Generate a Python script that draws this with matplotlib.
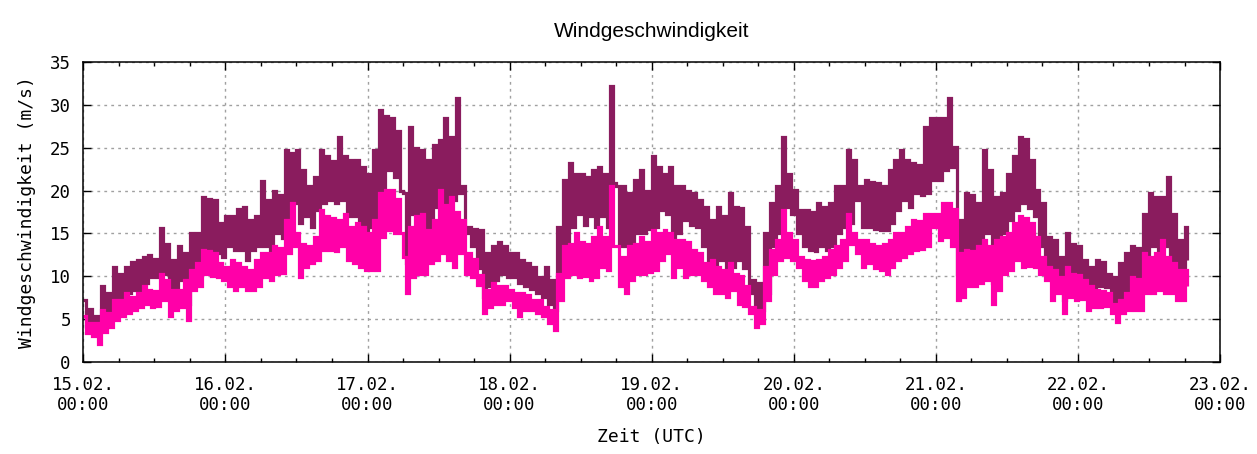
import matplotlib
matplotlib.use('Agg')
import matplotlib.pyplot as plt
from matplotlib.ticker import MultipleLocator

# Half-hourly readings, starting 15.02. 00:00 UTC; each line = 10 hours (pairs per hour)
gust = [7.2, 4.1, 6.2, 4.0, 5.3, 3.5, 8.8, 4.1, 8.0, 5.0, 11.1, 6.4, 10.3, 7.2, 11.1, 8.0, 11.7, 8.4, 11.9, 8.4,
        12.3, 9.2, 12.5, 9.9, 12.0, 9.9, 15.6, 10.3, 13.8, 8.4, 11.9, 8.4, 13.5, 9.6, 12.7, 6.8, 15.0, 10.3, 15.0, 11.9,
        19.3, 12.3, 19.0, 12.5, 18.9, 12.7, 16.2, 12.3, 17.0, 13.5, 17.0, 13.1, 17.9, 13.1, 18.1, 11.9, 16.6, 13.1, 17.0, 13.5,
        21.1, 13.5, 18.9, 13.1, 20.0, 15.0, 19.5, 14.5, 24.8, 16.6, 24.4, 18.5, 24.8, 16.2, 22.4, 17.0, 20.5, 15.8, 21.6, 17.7,
        24.8, 18.5, 24.0, 18.9, 23.5, 18.5, 26.3, 18.9, 24.0, 17.0, 23.6, 17.0, 23.6, 15.8, 22.8, 15.4, 22.0, 15.8, 24.8, 15.8,
        29.4, 19.7, 28.7, 22.4, 28.5, 21.6, 27.0, 20.0, 19.7, 11.5, 27.5, 17.3, 25.0, 16.0, 24.8, 15.8, 23.6, 15.0, 25.3, 18.1,
        25.9, 17.0, 28.5, 17.3, 26.3, 18.9, 30.8, 19.7, 20.5, 15.0, 15.8, 13.5, 15.5, 11.0, 15.4, 7.6, 12.7, 8.8, 13.5, 9.6,
        14.0, 10.3, 13.5, 9.9, 12.7, 9.9, 12.7, 9.2, 11.9, 8.8, 11.5, 8.5, 11.1, 8.0, 9.9, 7.6, 11.1, 6.8, 9.6, 6.0,
        15.8, 9.9, 21.2, 13.5, 23.2, 15.8, 22.0, 17.3, 22.0, 16.0, 21.6, 17.0, 22.4, 15.8, 22.8, 17.0, 22.0, 15.8, 32.2, 20.9,
        20.5, 13.5, 20.5, 13.5, 19.7, 13.1, 21.2, 15.0, 22.4, 15.0, 20.0, 15.5, 24.0, 15.8, 22.8, 17.7, 22.0, 17.3, 22.8, 14.6,
        20.5, 15.0, 20.5, 16.6, 20.0, 16.0, 19.7, 15.8, 18.9, 13.5, 18.1, 11.5, 16.6, 11.1, 18.1, 11.9, 17.0, 10.3, 19.7, 11.1,
        18.1, 11.9, 18.0, 11.0, 15.8, 8.0, 9.6, 5.7, 9.2, 6.0, 15.0, 8.0, 18.5, 13.5, 20.5, 15.0, 26.3, 18.1, 22.0, 17.3,
        20.1, 15.0, 17.7, 13.5, 17.7, 13.1, 17.5, 13.0, 18.5, 13.5, 18.1, 13.1, 18.5, 13.5, 20.5, 15.0, 20.5, 15.8, 24.8, 16.2,
        23.6, 18.9, 20.5, 15.8, 21.2, 15.8, 21.0, 15.5, 20.9, 15.4, 20.5, 15.4, 22.4, 16.2, 23.6, 17.7, 24.8, 18.9, 23.6, 18.1,
        23.2, 19.7, 23.0, 19.5, 27.5, 19.7, 28.5, 21.2, 28.5, 21.2, 28.5, 22.4, 30.8, 22.8, 25.1, 10.3, 16.6, 10.3, 19.7, 12.7,
        19.5, 12.5, 18.5, 11.9, 24.8, 15.0, 22.4, 9.2, 19.3, 13.8, 19.7, 15.0, 22.0, 16.6, 24.0, 17.7, 26.3, 18.5, 26.0, 18.0,
        23.6, 17.0, 20.1, 13.5, 18.5, 11.1, 14.6, 9.6, 14.2, 9.2, 12.3, 7.2, 15.0, 9.9, 13.8, 8.8, 13.5, 8.9, 11.9, 8.0,
        11.1, 8.0, 11.9, 8.8, 11.7, 8.7, 10.3, 6.8, 9.9, 6.4, 11.5, 7.6, 12.7, 8.0, 13.5, 8.8, 13.3, 8.9, 17.3, 10.3,
        19.7, 13.5, 19.3, 11.5, 19.3, 13.5, 21.6, 11.9, 17.3, 10.3, 14.2, 11.1, 15.8, 11.9]

mean = [5.3, 3.3, 4.5, 3.0, 4.5, 2.1, 6.0, 3.5, 5.7, 4.1, 7.2, 4.9, 7.2, 5.3, 8.0, 5.7, 7.6, 6.0, 8.0, 6.4,
        8.8, 6.8, 8.4, 6.4, 8.3, 6.5, 10.3, 7.2, 9.6, 5.3, 8.4, 6.0, 8.4, 6.4, 9.6, 4.9, 10.7, 8.4, 11.5, 8.8,
        13.1, 10.3, 13.0, 10.0, 12.7, 9.9, 11.5, 9.6, 11.1, 8.8, 11.9, 8.4, 11.5, 8.8, 11.1, 8.4, 10.7, 8.4, 11.9, 8.8,
        12.7, 9.9, 12.7, 9.6, 13.5, 10.3, 13.3, 10.4, 16.6, 12.7, 18.5, 13.5, 15.0, 9.9, 13.8, 11.1, 13.5, 11.5, 14.6, 11.9,
        17.7, 13.1, 17.0, 13.1, 16.8, 13.0, 16.6, 13.5, 17.3, 11.9, 15.8, 11.5, 16.2, 11.1, 15.8, 10.7, 15.0, 10.7, 16.6, 10.7,
        19.7, 14.6, 20.1, 15.4, 20.1, 15.0, 19.0, 15.0, 12.3, 8.0, 15.8, 9.9, 17.0, 10.3, 17.3, 10.3, 15.4, 11.5, 16.6, 11.9,
        20.1, 12.7, 18.3, 11.9, 19.3, 11.1, 17.5, 12.7, 16.6, 10.3, 12.7, 9.9, 12.0, 9.0, 10.1, 5.7, 8.4, 6.4, 9.2, 6.8,
        8.8, 6.8, 8.8, 7.2, 8.4, 6.4, 8.0, 5.3, 8.0, 6.0, 7.8, 6.0, 7.2, 5.7, 7.2, 5.3, 6.4, 4.5, 6.0, 3.7,
        10.3, 7.2, 13.5, 9.9, 13.8, 10.3, 15.0, 9.9, 14.0, 10.0, 13.8, 9.6, 14.6, 9.9, 15.8, 11.1, 14.6, 10.7, 20.5, 13.5,
        13.5, 8.8, 12.3, 8.0, 13.5, 9.6, 13.8, 10.3, 14.6, 10.3, 14.0, 10.5, 15.4, 10.7, 15.0, 11.9, 15.4, 12.7, 15.0, 9.9,
        14.2, 11.1, 14.2, 9.9, 14.0, 10.2, 13.1, 10.3, 12.7, 9.6, 11.5, 8.8, 11.9, 8.0, 11.1, 8.0, 10.7, 7.6, 11.5, 8.4,
        10.3, 6.8, 10.0, 6.5, 8.8, 5.7, 6.4, 4.1, 6.0, 4.5, 11.1, 7.2, 13.1, 10.3, 14.2, 11.9, 17.7, 12.3, 15.0, 11.9,
        14.2, 11.1, 12.3, 9.6, 11.9, 8.8, 11.8, 8.9, 11.9, 9.6, 12.3, 9.9, 13.1, 10.3, 13.5, 11.1, 14.2, 11.9, 17.3, 13.8,
        15.0, 12.7, 14.2, 11.1, 14.2, 11.5, 13.8, 11.0, 13.5, 10.7, 13.8, 10.3, 14.2, 11.1, 15.0, 11.9, 15.0, 12.3, 15.8, 12.7,
        16.6, 13.1, 16.4, 13.2, 17.3, 13.5, 17.3, 15.8, 17.3, 14.2, 18.5, 14.6, 18.5, 13.5, 17.9, 7.2, 12.7, 7.6, 13.1, 8.8,
        13.0, 8.9, 13.5, 9.2, 14.2, 9.6, 13.5, 6.8, 14.2, 8.4, 14.6, 10.3, 15.0, 10.7, 16.2, 11.9, 17.0, 11.1, 16.8, 11.2,
        16.2, 11.1, 14.6, 10.3, 12.3, 9.6, 11.1, 7.2, 10.7, 8.0, 9.9, 5.7, 11.1, 7.6, 10.3, 7.2, 10.1, 7.3, 9.6, 6.0,
        8.8, 6.4, 8.4, 6.4, 8.3, 6.5, 8.0, 5.7, 6.8, 4.7, 7.2, 5.7, 8.0, 6.0, 9.9, 6.0, 9.7, 6.1, 12.7, 8.0,
        12.3, 8.0, 12.7, 8.4, 14.2, 8.0, 12.3, 8.0, 11.5, 7.2, 10.7, 7.2, 10.7, 8.8]

hours = [i * 0.5 for i in range(len(gust))]

tick_hours = [0, 24, 48, 72, 96, 120, 144, 168, 192]
tick_labels = ['15.02.\n00:00', '16.02.\n00:00', '17.02.\n00:00', '18.02.\n00:00',
               '19.02.\n00:00', '20.02.\n00:00', '21.02.\n00:00', '22.02.\n00:00',
               '23.02.\n00:00']

mono = 'DejaVu Sans Mono'

fig = plt.figure(figsize=(12.57, 4.54), dpi=100)
ax = fig.add_axes([0.0663, 0.2033, 0.9043, 0.6593])

ax.step(hours, gust, where='post', color='#8a1c5e', linewidth=2.3,
        solid_joinstyle='miter', solid_capstyle='butt')
ax.step(hours, mean, where='post', color='#ff00a8', linewidth=2.3,
        solid_joinstyle='miter', solid_capstyle='butt')

ax.set_xlim(0, 192)
ax.set_ylim(0, 35)
ax.set_xticks(tick_hours)
ax.set_xticklabels(tick_labels, family=mono, fontsize=12.5)
ax.xaxis.set_minor_locator(MultipleLocator(6))
ax.set_yticks(range(0, 36, 5))
ax.set_yticklabels([str(v) for v in range(0, 36, 5)], family=mono, fontsize=12.5)

ax.tick_params(which='both', direction='in', top=True, right=True, color='black')
ax.tick_params(which='major', length=6, width=1)
ax.tick_params(which='minor', length=3, width=1)
ax.tick_params(axis='x', which='major', pad=10)
ax.tick_params(axis='y', which='major', pad=9)

ax.grid(True, which='major', color='#a0a0a0', linestyle=(0, (2, 3)), linewidth=1)
ax.set_axisbelow(True)
for s in ax.spines.values():
    s.set_linewidth(1.1)

ax.set_title('Windgeschwindigkeit', family='Liberation Sans', fontsize=15, pad=18)
ax.set_xlabel('Zeit (UTC)', family=mono, fontsize=13, labelpad=10)
ax.set_ylabel('Windgeschwindigkeit (m/s)', family=mono, fontsize=13, labelpad=10)

fig.savefig('out.png', dpi=100)
